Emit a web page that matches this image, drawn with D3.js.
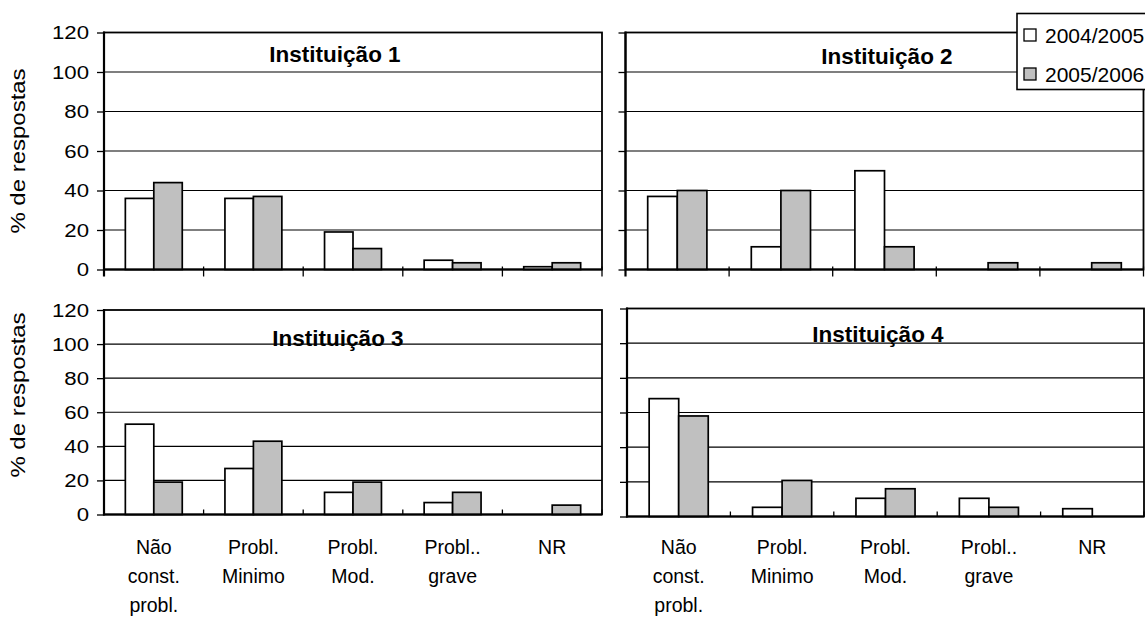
<!DOCTYPE html>
<html><head><meta charset="utf-8">
<script src="https://cdn.jsdelivr.net/npm/d3@7"></script>
<style>
body{margin:0;background:#fff}
svg{display:block}
text{font-family:"Liberation Sans",Arial,sans-serif;fill:#000}
</style>
</head><body>
<svg id="c" width="1145" height="617"></svg>
<script>
// ---------- data ----------
const categories = ["Não const. probl.", "Probl. Minimo", "Probl. Mod.", "Probl.. grave", "NR"];
const categoryLines = [["Não", "const.", "probl."], ["Probl.", "Minimo"], ["Probl.", "Mod."], ["Probl..", "grave"], ["NR"]];
const seriesNames = ["2004/2005", "2005/2006"];
const seriesColors = ["#ffffff", "#c0c0c0"];
const yTicks = [0, 20, 40, 60, 80, 100, 120];
const panelTitles = ["Instituição 1", "Instituição 2", "Instituição 3", "Instituição 4"];
const yTitle = "% de respostas";

const inst1_0405 = [36, 36, 19, 4.7, 1.4];
const inst1_0506 = [44, 37, 10.6, 3.4, 3.4];
const inst2_0405 = [37, 11.5, 50, 0, 0];
const inst2_0506 = [40, 40, 11.5, 3.4, 3.4];
const inst3_0405 = [53, 27, 13, 7, 0];
const inst3_0506 = [19, 43, 19, 13, 5.5];
const inst4_0405 = [68, 5.3, 10.5, 10.5, 4.5];
const inst4_0506 = [58, 20.8, 16, 5.3, 0];
const panelValues = [[inst1_0405, inst1_0506], [inst2_0405, inst2_0506], [inst3_0405, inst3_0506], [inst4_0405, inst4_0506]];

// ---------- layout ----------
const layout = [
  {x0:104,   x1:602,    yT:32.5,  yB:269.5, yLabels:true,  catLabels:false, tx:335, ty:62,  cross:true,  titleY:151},
  {x0:625.5, x1:1143.5, yT:32.5,  yB:269.5, yLabels:false, catLabels:false, tx:887, ty:64,  cross:true},
  {x0:104,   x1:602,    yT:310,   yB:514.5, yLabels:true,  catLabels:true,  tx:338, ty:346, cross:false, titleY:395},
  {x0:627,   x1:1144,   yT:308.5, yB:516.5, yLabels:false, catLabels:true,  tx:878, ty:342, cross:false}
];
const catLabelTop = 554;
const catLabelStep = 29;

const svg = d3.select("#c");

layout.forEach((L, pi) => {
  const g = svg.append("g");
  const x = d3.scaleBand().domain(categories).range([L.x0, L.x1]).padding(0);
  const xs = d3.scaleBand().domain(seriesNames).range([0, x.bandwidth()]).paddingInner(0).paddingOuter(0.75);
  const y = d3.scaleLinear().domain([0, 120]).range([L.yB, L.yT]);

  // gridlines
  g.append("g").selectAll("line").data(yTicks.filter(v => v > 0 && v < 120)).join("line")
    .attr("x1", L.x0).attr("x2", L.x1)
    .attr("y1", d => y(d)).attr("y2", d => y(d))
    .attr("stroke", "#000").attr("stroke-width", 1.1);

  // frame
  g.append("rect").attr("x", L.x0).attr("y", y(120)).attr("width", L.x1 - L.x0).attr("height", y(0) - y(120))
    .attr("fill", "none").attr("stroke", "#000").attr("stroke-width", 1.8);

  // title
  g.append("text").attr("x", L.tx).attr("y", L.ty).attr("text-anchor", "middle")
    .style("font-size", "22.5px").style("font-weight", "bold").text(panelTitles[pi]);

  // bars
  const vals = panelValues[pi];
  const rows = [];
  seriesNames.forEach((s, si) => categories.forEach((c, ci) => rows.push({c, s, si, v: vals[si][ci]})));
  g.append("g").selectAll("rect").data(rows.filter(d => d.v > 0)).join("rect")
    .attr("x", d => x(d.c) + xs(d.s))
    .attr("width", xs.bandwidth())
    .attr("y", d => y(d.v))
    .attr("height", d => y(0) - y(d.v))
    .attr("fill", d => seriesColors[d.si])
    .attr("stroke", "#000").attr("stroke-width", 1.7);

  // y axis
  const ax = d3.axisLeft(y).tickValues(yTicks).tickSize(7).tickSizeOuter(0);
  if (!L.yLabels) ax.tickFormat("");
  const ag = g.append("g").attr("transform", `translate(${L.x0},0)`).call(ax);
  ag.select(".domain").remove();
  ag.selectAll(".tick line").attr("stroke", "#000").attr("stroke-width", 1.3);
  ag.selectAll(".tick text")
    .attr("transform", "scale(1.2,1)")
    .attr("x", -15 / 1.2)
    .attr("dy", "0.35em")
    .style("font-size", "18.5px").style("font-family", "'Liberation Sans',Arial,sans-serif").attr("fill", "#000");
  g.append("line").attr("x1", L.x0).attr("x2", L.x0).attr("y1", y(120) - 1).attr("y2", y(0) + (L.cross ? 7 : 1))
    .attr("stroke", "#000").attr("stroke-width", 2.2);

  // x axis
  g.append("line").attr("x1", L.x0).attr("x2", L.x1).attr("y1", y(0)).attr("y2", y(0))
    .attr("stroke", "#000").attr("stroke-width", 2.2);
  const xb = d3.scaleLinear().domain([0, categories.length]).range([L.x0, L.x1]);
  g.append("g").selectAll("line").data(d3.range(1, categories.length + 1)).join("line")
    .attr("x1", d => xb(d)).attr("x2", d => xb(d))
    .attr("y1", y(0) - (L.cross ? 3 : 5)).attr("y2", y(0) + (L.cross ? 7 : 0))
    .attr("stroke", "#000").attr("stroke-width", 1.3);

  // category labels
  if (L.catLabels) {
    const cl = g.append("g").selectAll("text").data(categories).join("text")
      .attr("text-anchor", "middle").style("font-size", "19.5px")
      .attr("transform", d => `translate(${x(d) + x.bandwidth() / 2},${catLabelTop})`);
    cl.selectAll("tspan").data((d, i) => categoryLines[i]).join("tspan")
      .attr("x", 0).attr("y", (d, i) => i * catLabelStep).text(d => d);
  }

  // y title
  if (L.yLabels) {
    g.append("text")
      .attr("transform", `translate(25,${L.titleY}) rotate(-90) scale(1.23,1)`)
      .attr("text-anchor", "middle").style("font-size", "19.5px").text(yTitle);
  }
});

// legend
const lg = svg.append("g");
lg.append("rect").attr("x", 1017).attr("y", 13.5).attr("width", 140).attr("height", 76)
  .attr("fill", "#fff").attr("stroke", "#000").attr("stroke-width", 1.6);
const li = lg.selectAll("g.item").data(seriesNames).join("g").attr("class", "item")
  .attr("transform", (d, i) => `translate(1024,${35 + i * 39})`);
li.append("rect").attr("x", 0).attr("y", -6).attr("width", 12).attr("height", 12)
  .attr("fill", (d, i) => seriesColors[i]).attr("stroke", "#000").attr("stroke-width", 1.3);
li.append("text").attr("x", 21).attr("y", 7.5).style("font-size", "21px").text(d => d);
</script>
</body></html>
